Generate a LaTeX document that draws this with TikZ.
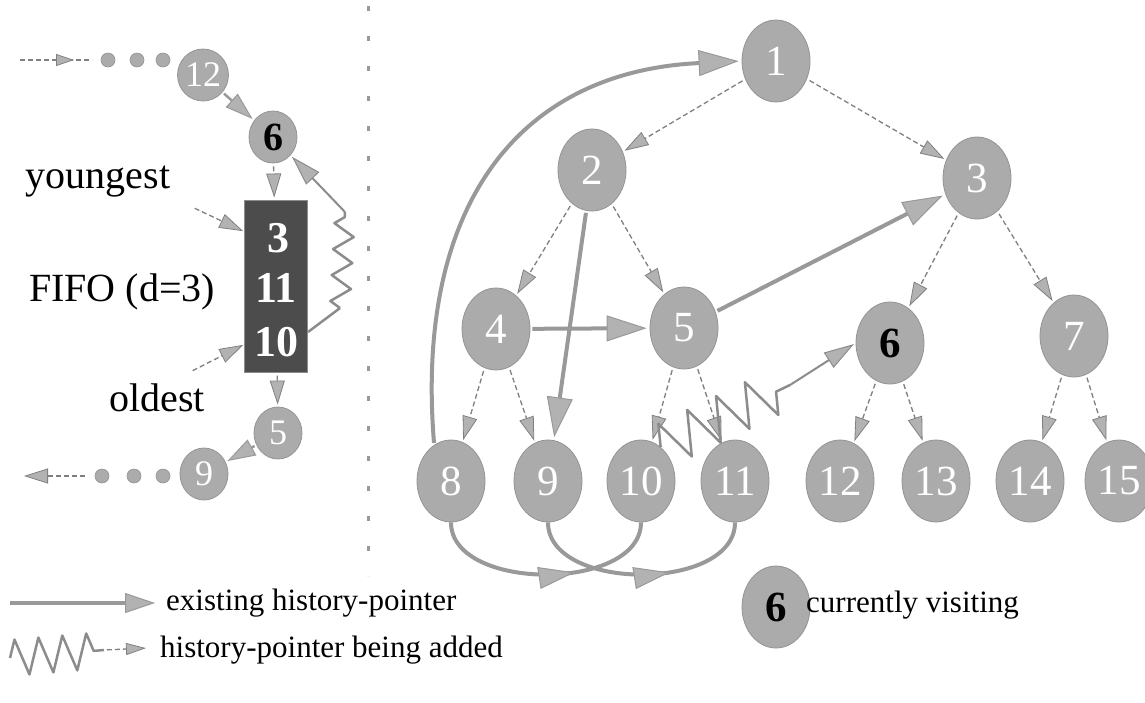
\documentclass[tikz,border=0pt]{standalone}
\usepackage{fontspec}
\setmainfont{Liberation Serif}
\usetikzlibrary{arrows.meta,decorations.pathmorphing,decorations.markings,shapes.geometric}

\begin{document}
\begin{tikzpicture}[x=1pt,y=-1pt,
  vnode/.style={ellipse, fill=black!33, draw=black!42, line width=0.8pt,
    minimum width=68pt, minimum height=82pt, inner sep=0pt, text=white,
    font=\fontsize{43}{43}\selectfont},
  snode/.style={ellipse, fill=black!33, draw=black!42, line width=0.8pt,
    minimum width=48pt, minimum height=52pt, inner sep=0pt, text=white,
    font=\fontsize{36}{36}\selectfont},
  visiting/.style={text=black, font=\fontsize{43}{43}\selectfont\bfseries},
  dotn/.style={circle, fill=black!33, draw=black!42, line width=0.6pt,
    minimum size=14pt, inner sep=0pt},
  fifo/.style={rectangle, fill=black!70, draw=black!45, line width=1pt,
    minimum width=63pt, minimum height=172pt, inner sep=0pt},
  fnum/.style={text=white, inner sep=0pt, font=\fontsize{44}{44}\selectfont\bfseries},
  label/.style={inner sep=0pt, font=\fontsize{40}{44}\selectfont},
  legtext/.style={inner sep=0pt, anchor=west, font=\fontsize{31}{34}\selectfont},
  tedge/.style={draw=black!50, line width=1.3pt, dash pattern=on 5pt off 3pt,
    shorten <=3pt, shorten >=2pt,
    -{Triangle[length=24pt,width=15pt,line width=0.8pt,fill=black!30]}},
  hptr/.style={draw=black!40, line width=4pt, shorten <=2pt, shorten >=3pt,
    -{Triangle[length=40pt,width=26pt,line width=1pt,fill=black!30]}},
  sptr/.style={draw=black!40, line width=2.5pt, shorten <=2pt, shorten >=2pt,
    -{Triangle[length=28pt,width=18pt,line width=1pt,fill=black!30]}},
  hmid/.style={draw=black!40, line width=4pt,
    postaction={decorate, decoration={markings,
      mark=at position 0.62 with {\arrow{Triangle[length=36pt,width=22pt,line width=1pt,fill=black!30]}}}}},
  chain/.style={draw=black!50, line width=1.3pt, dash pattern=on 5pt off 3pt,
    postaction={decorate, decoration={markings,
      mark=at position 0.75 with {\arrow{Triangle[length=18pt,width=12pt,line width=0.8pt,fill=black!30]}}}}},
  zig/.style={draw=black!45, line width=2.5pt, line join=round,
    decorate, decoration={zigzag, segment length=32pt, amplitude=22pt}},
  zigsmall/.style={draw=black!45, line width=2.5pt, line join=round,
    decorate, decoration={zigzag, segment length=26pt, amplitude=10pt}},
  zigleg/.style={draw=black!45, line width=2.5pt, line join=round,
    decorate, decoration={zigzag, segment length=24pt, amplitude=18pt}},
  zigend/.style={draw=black!45, line width=2pt, shorten >=2pt,
    -{Triangle[length=30pt,width=18pt,line width=1pt,fill=black!30]}},
  sepline/.style={draw=black!40, line width=3pt, dash pattern=on 5pt off 25pt},
]
% page and margins
\fill[white] (0,0) rectangle (1145,702);
\useasboundingbox (0,0) rectangle (1145,702);

% ---------------- the tree ----------------
\node[vnode] (n1) at (776,61) {1};
\node[vnode] (n2) at (592,170) {2};
\node[vnode] (n3) at (977,178) {3};
\node[vnode] (n4) at (496,329) {4};
\node[vnode] (n5) at (684,328) {5};
\node[vnode,visiting] (n6) at (890,343) {6};
\node[vnode] (n7) at (1074,336) {7};
\node[vnode] (n8) at (451,481) {8};
\node[vnode] (n9) at (548,481) {9};
\node[vnode] (n10) at (641,481) {10};
\node[vnode] (n11) at (735,481) {11};
\node[vnode] (n12) at (840,481) {12};
\node[vnode] (n13) at (936,481) {13};
\node[vnode] (n14) at (1030,481) {14};
\node[vnode] (n15) at (1119,481) {15};

% tree edges
\foreach \a/\b in {n1/n2,n1/n3,n2/n4,n2/n5,n3/n6,n3/n7,n4/n8,n4/n9,
                   n5/n10,n5/n11,n6/n12,n6/n13,n7/n14,n7/n15}
  \draw[tedge] (\a) -- (\b);

% existing history pointers
\draw[hptr] (n4) -- (n5);
\draw[hptr] (n5) -- (n3);
\draw[hptr] (n2) -- (n9);
\draw[hptr] (n8.115) .. controls (415,210) and (515,72) .. (n1.west);
\draw[hmid] (n8.south) .. controls (451,592) and (641,592) .. (n10.south);
\draw[hmid] (n9.south) .. controls (548,592) and (735,592) .. (n11.south);

% history pointer being added
\coordinate (z1) at (790,385);
\draw[zig] (n10.60) -- (z1);
\draw[zigend] (z1) -- (n6.west);

% separator
\coordinate (s0) at (368,6);
\coordinate (s1) at (368,576);
\draw[sepline] (s0) -- (s1);

% ---------------- the visiting order and FIFO ----------------
\coordinate (ta) at (20,60);
\coordinate (tb) at (92,60);
\draw[chain] (ta) -- (tb);
\node[dotn] (d1) at (108,60) {};
\node[dotn] (d2) at (137,60) {};
\node[dotn] (d3) at (163,60) {};
\node[snode] (L12) at (203,75) {12};
\node[snode,visiting,font=\fontsize{40}{40}\selectfont\bfseries] (L6) at (273,137) {6};
\draw[sptr] (L12) -- (L6);

\node[fifo] (fifo) at (276,286) {};
\node[fnum] (f3) at (278,238) {3};
\node[fnum] (f11) at (276,288) {11};
\node[fnum] (f10) at (276,342) {10};
\draw[tedge] (L6) -- (fifo);

\node[snode] (L5) at (278,433) {5};
\node[snode] (L9) at (204,474) {9};
\draw[tedge] (fifo) -- (L5);
\draw[sptr] (L5) -- (L9);
\node[dotn] (d4) at (163,476) {};
\node[dotn] (d5) at (134,476) {};
\node[dotn] (d6) at (102,476) {};
\coordinate (ba) at (88,476);
\coordinate (bb) at (22,476);
\draw[tedge] (ba) -- (bb);

\node[label] (young) at (98,182) {youngest};
\node[label] (fifolab) at (122,292) {FIFO (d=3)};
\node[label] (old) at (157,398) {oldest};
\coordinate (ya) at (192,207);
\coordinate (yb) at (245,232);
\draw[tedge] (ya) -- (yb);
\coordinate (oa) at (190,372);
\coordinate (ob) at (245,344);
\draw[tedge] (oa) -- (ob);

% pointer being added inside the FIFO view
\coordinate (fz0) at (308,332);
\coordinate (fz1) at (340,308);
\coordinate (fz2) at (345,212);
\draw[draw=black!45, line width=2.5pt] (fz0) -- (fz1);
\draw[zigsmall] (fz1) -- (fz2);
\draw[zigend] (fz2) -- (L6);

% ---------------- legend ----------------
\coordinate (la) at (8,603);
\coordinate (lb) at (158,603);
\draw[hptr, -{Triangle[length=30pt,width=20pt,line width=1pt,fill=black!30]}] (la) -- (lb);
\node[legtext] (lt1) at (166,603) {existing history-pointer};

\coordinate (lz0) at (10,658);
\coordinate (lz1) at (104,650);
\coordinate (lz2) at (148,648);
\draw[zigleg] (lz0) -- (lz1);
\draw[tedge, -{Triangle[length=20pt,width=12pt,line width=0.8pt,fill=black!30]}] (lz1) -- (lz2);
\node[legtext] (lt2) at (160,650) {history-pointer being added};

\node[vnode,visiting] (lg6) at (776,607) {6};
\node[legtext] (lt3) at (806,605) {currently visiting};
\end{tikzpicture}
\end{document}
